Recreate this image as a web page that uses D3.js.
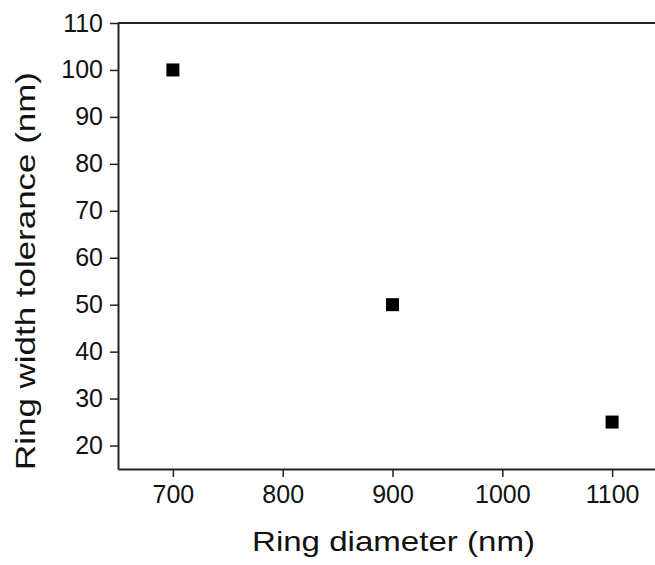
<!DOCTYPE html>
<html><head><meta charset="utf-8">
<script src="https://cdn.jsdelivr.net/npm/d3@7"></script>
<style>body{margin:0;background:#fff;} svg{display:block;}</style>
</head><body>
<script>
const diameters = [700, 900, 1100];
const tolerances = [100, 50, 25];
const xTicks = [700, 800, 900, 1000, 1100];
const yTicks = [20, 30, 40, 50, 60, 70, 80, 90, 100, 110];
const xTitle = "Ring diameter (nm)";
const yTitle = "Ring width tolerance (nm)";

const W = 655, H = 565;
const svg = d3.select("body").append("svg").attr("width", W).attr("height", H);
const font = "'Liberation Sans', Arial, sans-serif";

const x = d3.scaleLinear().domain([650, 1150]).range([118, 667]);
const y = d3.scaleLinear().domain([15, 110]).range([469, 23]);

// top frame line
svg.append("line").attr("x1", 118).attr("x2", 667).attr("y1", y(110)).attr("y2", y(110))
  .attr("stroke", "#222").attr("stroke-width", 2);

const xAxis = svg.append("g").attr("transform", `translate(0,${y(15)})`)
  .call(d3.axisBottom(x).tickValues(xTicks).tickFormat(d3.format("d")).tickSize(8).tickPadding(8).tickSizeOuter(0));
const yAxis = svg.append("g").attr("transform", `translate(${x(650)},0)`)
  .call(d3.axisLeft(y).tickValues(yTicks).tickFormat(d3.format("d")).tickSize(8).tickPadding(7).tickSizeOuter(0));

[xAxis, yAxis].forEach(g => {
  g.select(".domain").attr("stroke", "#222").attr("stroke-width", 2);
  g.selectAll(".tick line").attr("stroke", "#222").attr("stroke-width", 1.5);
  g.selectAll(".tick text").attr("fill", "#111").style("font-family", font).style("font-size", "25px");
});

const s = 13;
svg.selectAll("rect.pt").data(diameters).enter().append("rect").attr("class", "pt")
  .attr("x", (d) => x(d) - s / 2)
  .attr("y", (d, i) => y(tolerances[i]) - s / 2)
  .attr("width", s).attr("height", s).attr("fill", "#000");

svg.append("text").attr("x", 393.5).attr("y", 551).attr("text-anchor", "middle")
  .attr("textLength", 283).attr("lengthAdjust", "spacingAndGlyphs")
  .style("font-family", font).style("font-size", "28px").attr("fill", "#111").text(xTitle);

svg.append("text").attr("transform", "translate(35,271) rotate(-90)").attr("text-anchor", "middle")
  .attr("textLength", 398).attr("lengthAdjust", "spacingAndGlyphs")
  .style("font-family", font).style("font-size", "28px").attr("fill", "#111").text(yTitle);
</script>
</body></html>
